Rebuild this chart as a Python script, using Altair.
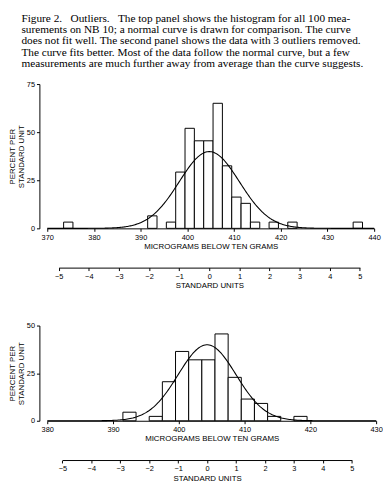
import altair as alt
import pandas as pd

# ---------------- data ----------------
CAPTION = [
    "Figure 2.\u00a0\u00a0 Outliers.\u00a0\u00a0 The top panel shows the histogram for all 100 mea-",
    "surements on NB 10; a normal curve is drawn for comparison. The curve",
    "does not fit well. The second panel shows the data with 3 outliers removed.",
    "The curve fits better. Most of the data follow the normal curve, but a few",
    "measurements are much further away from average than the curve suggests.",
]

BIN_W = 2  # class interval width (micrograms)

# top panel: all 100 measurements
TOP_BIN_LEFT = [373.5, 391.5, 395.5, 397.5, 399.5, 401.5, 403.5, 405.5,
                407.5, 409.5, 411.5, 413.5, 417.5, 421.5, 435.5]
TOP_HEIGHT = [3.25, 6.5, 3.25, 29.25, 52.0, 45.5, 45.5, 65.0,
              32.5, 16.25, 13.0, 3.25, 3.25, 3.25, 3.25]
TOP_MEAN = 404.7
TOP_SD = 6.45
TOP_XDOM = [370, 440]
TOP_XTICKS = [370, 380, 390, 400, 410, 420, 430, 440]
TOP_YDOM = [0, 75]
TOP_YTICKS = [0, 25, 50, 75]

# bottom panel: 3 outliers removed
BOT_BIN_LEFT = [391.5, 395.5, 397.5, 399.5, 401.5, 403.5, 405.5,
                407.5, 409.5, 411.5, 413.5, 417.5]
BOT_HEIGHT = [4.5, 2.3, 20.5, 36.4, 32.0, 32.0, 45.6,
              22.8, 11.4, 9.1, 2.3, 2.3]
BOT_MEAN = 404.3
BOT_SD = 4.4
BOT_XDOM = [380, 430]
BOT_XTICKS = [380, 390, 400, 410, 420, 430]
BOT_YDOM = [0, 50]
BOT_YTICKS = [0, 25, 50]

SU_TICKS = [-5, -4, -3, -2, -1, 0, 1, 2, 3, 4, 5]

SANS = "Liberation Sans"
SERIF = "Liberation Serif"


def panel(bin_left, heights, mean, sd, xdom, xticks, ydom, yticks, width, height):
    bars_df = pd.DataFrame({
        "left": bin_left,
        "right": [b + BIN_W for b in bin_left],
        "h": heights,
        "base": [0] * len(bin_left),
    })
    xscale = alt.Scale(domain=xdom, nice=False, zero=False)
    yscale = alt.Scale(domain=ydom, nice=False, zero=True)
    xaxis = alt.Axis(values=xticks, title="MICROGRAMS BELOW TEN GRAMS",
                     titlePadding=2, labelFlush=False, labelOverlap=False)
    yaxis = alt.Axis(values=yticks, title=["PERCENT PER", "STANDARD UNIT"],
                     offset=8, titlePadding=1, titleLineHeight=9,
                     labelPadding=2, tickSize=3)

    bars = alt.Chart(bars_df).mark_rect(
        fill="white", stroke="black", strokeWidth=1
    ).encode(
        x=alt.X("left:Q", scale=xscale, axis=xaxis),
        x2="right:Q",
        y=alt.Y("h:Q", scale=yscale, axis=yaxis),
        y2="base:Q",
    )

    curve = alt.Chart(
        alt.sequence(xdom[0], xdom[1] + 0.1, 0.2, as_="x")
    ).transform_calculate(
        y=f"100 / sqrt(2 * PI) * exp(-0.5 * pow((datum.x - {mean}) / {sd}, 2))"
    ).mark_line(color="black", strokeWidth=1.1).encode(
        x=alt.X("x:Q", scale=xscale, axis=xaxis),
        y=alt.Y("y:Q", scale=yscale, axis=yaxis),
    )

    span = xdom[1] - xdom[0]
    r0 = (mean + SU_TICKS[0] * sd - xdom[0]) / span * width
    r1 = (mean + SU_TICKS[-1] * sd - xdom[0]) / span * width
    su_df = pd.DataFrame({"su": SU_TICKS})
    su = alt.Chart(su_df).mark_point(opacity=0, size=1).encode(
        x=alt.X(
            "su:Q",
            scale=alt.Scale(domain=[SU_TICKS[0], SU_TICKS[-1]], range=[r0, r1],
                            nice=False, zero=False),
            axis=alt.Axis(orient="bottom", offset=40, values=SU_TICKS,
                          title="STANDARD UNITS", titlePadding=2,
                          labelFlush=False, labelOverlap=False,
                          labelExpr="datum.value < 0 ? '\u2212' + abs(datum.value) : '' + datum.value"),
        )
    )

    return alt.layer(alt.layer(bars, curve), su).resolve_scale(
        x="independent"
    ).properties(width=width, height=height)


top = panel(TOP_BIN_LEFT, TOP_HEIGHT, TOP_MEAN, TOP_SD, TOP_XDOM, TOP_XTICKS,
            TOP_YDOM, TOP_YTICKS, 333, 147)
bot = panel(BOT_BIN_LEFT, BOT_HEIGHT, BOT_MEAN, BOT_SD, BOT_XDOM, BOT_XTICKS,
            BOT_YDOM, BOT_YTICKS, 335, 97)

chart = alt.vconcat(top, bot, spacing=32).resolve_scale(
    x="independent", y="independent"
).properties(
    title=alt.TitleParams(
        text=CAPTION, anchor="start", font=SERIF, fontSize=11.5,
        fontWeight="normal", lineHeight=11.5, color="black",
        offset=11, dx=13,
    ),
    padding={"left": 0, "top": 0, "right": 0, "bottom": 0},
).configure_view(stroke=None).configure_axis(
    labelFont=SANS, titleFont=SANS, labelFontSize=7.5, titleFontSize=8,
    titleFontWeight="normal", labelColor="black", titleColor="black",
    domainColor="black", tickColor="black", grid=False, tickSize=3,
    labelPadding=2, domainWidth=1, tickWidth=1,
)

chart.save("out.html", embed_options={"renderer": "svg", "actions": False})
